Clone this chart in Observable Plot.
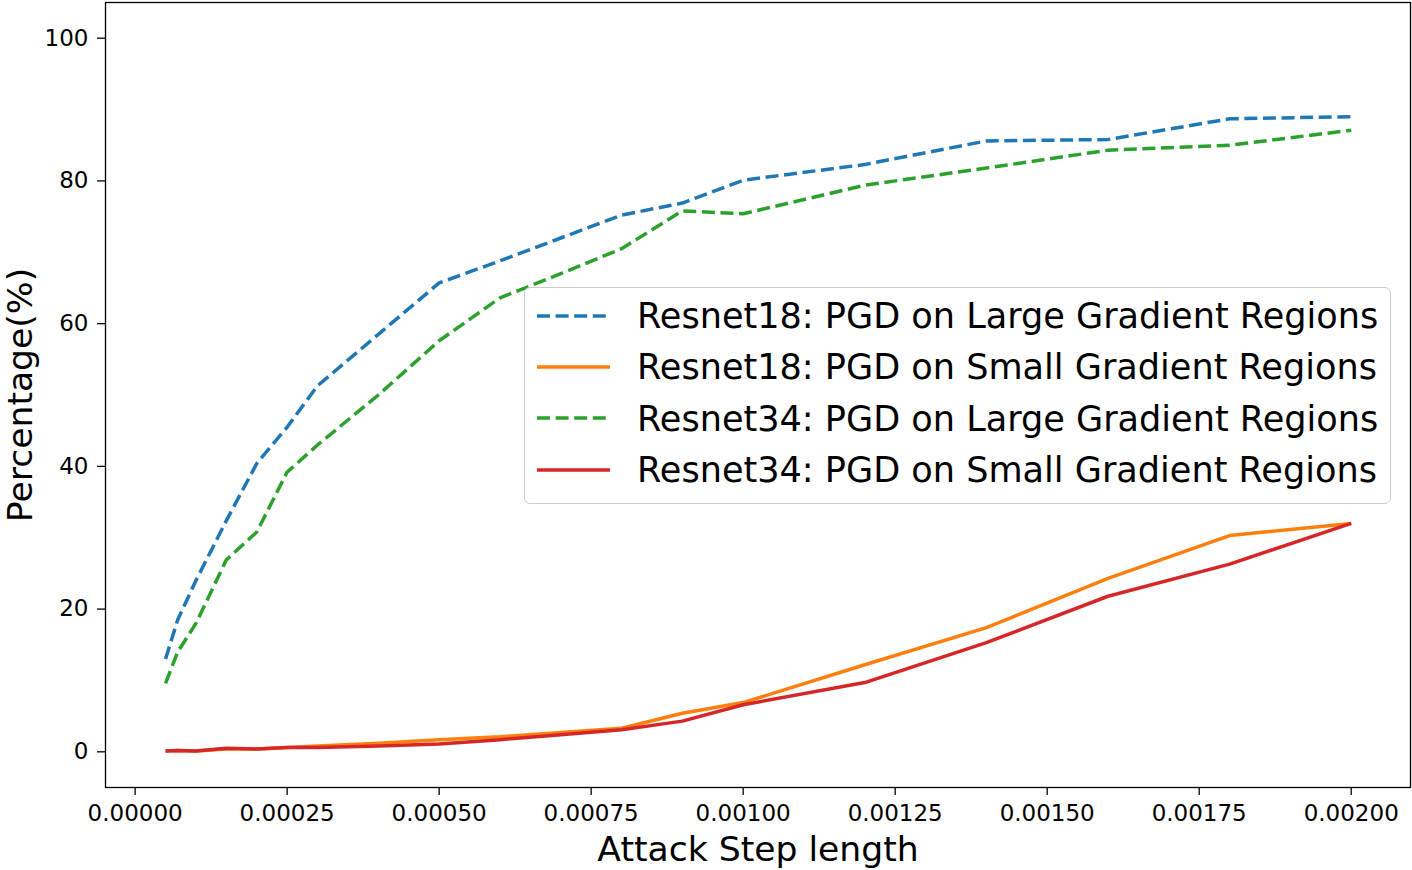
<!DOCTYPE html>
<html><head><meta charset="utf-8">
<script src="https://cdn.jsdelivr.net/npm/d3@7"></script>
<script src="https://cdn.jsdelivr.net/npm/@observablehq/plot@0.6"></script>
<style>
body{margin:0;background:#fff;font-family:"DejaVu Sans",sans-serif;}
#wrap{position:relative;width:1412px;height:870px;}
#legend{position:absolute;left:524px;top:287px;width:865px;height:213px;border:1.5px solid #cccccc;border-radius:6px;background:rgba(255,255,255,0.8);box-sizing:content-box;padding-top:2px;}
.row{display:flex;align-items:center;height:51.3px;font-size:35.1px;color:#000;white-space:nowrap;}
.row svg{margin-left:12px;margin-right:27px;flex-shrink:0;}
</style>
</head><body><div id="wrap"></div>
<script>
const steps = [0.00005, 0.00007, 0.0001, 0.00015, 0.0002, 0.00025, 0.0003, 0.0004, 0.0005, 0.0006, 0.0007, 0.0008, 0.0009, 0.001, 0.0012, 0.0014, 0.0016, 0.0018, 0.002];
const r18Large = [13.0, 18.5, 24.0, 32.4, 40.4, 45.5, 51.3, 58.5, 65.7, 68.8, 72.0, 75.2, 76.9, 80.1, 82.3, 85.6, 85.8, 88.7, 89.0];
const r18Small = [0.1, 0.2, 0.1, 0.4, 0.4, 0.6, 0.8, 1.2, 1.7, 2.1, 2.7, 3.3, 5.4, 6.9, 12.2, 17.4, 24.3, 30.3, 32.0];
const r34Large = [9.6, 14.0, 18.0, 26.9, 30.8, 39.2, 43.0, 50.0, 57.6, 63.6, 67.0, 70.5, 75.8, 75.4, 79.4, 81.8, 84.3, 85.0, 87.1];
const r34Small = [0.1, 0.2, 0.1, 0.5, 0.4, 0.6, 0.6, 0.8, 1.1, 1.7, 2.4, 3.1, 4.3, 6.6, 9.7, 15.3, 21.8, 26.3, 32.0];
const seriesNames = ["Resnet18: PGD on Large Gradient Regions", "Resnet18: PGD on Small Gradient Regions", "Resnet34: PGD on Large Gradient Regions", "Resnet34: PGD on Small Gradient Regions"];
const seriesValues = [r18Large, r18Small, r34Large, r34Small];
const seriesColors = ["#1f77b4", "#ff7f0e", "#2ca02c", "#d62728"];
const seriesDashed = [true, false, true, false];
const xTicks = [0, 0.00025, 0.0005, 0.00075, 0.001, 0.00125, 0.0015, 0.00175, 0.002];
const yTicks = [0, 20, 40, 60, 80, 100];
const xLabel = "Attack Step length";
const yLabel = "Percentage(%)";

const DASH = "13,5.6";
const lineMarks = seriesNames.map((name, i) => Plot.line(
  steps.map((s, j) => ({x: s, y: seriesValues[i][j]})),
  {x: "x", y: "y", stroke: seriesColors[i], strokeWidth: 3.5,
   strokeDasharray: seriesDashed[i] ? DASH : null, strokeLinejoin: "round", strokeLinecap: "butt"}
));

const chart = Plot.plot({
  width: 1412, height: 870,
  marginLeft: 105, marginRight: 2, marginTop: 2, marginBottom: 83,
  style: {fontFamily: "DejaVu Sans", background: "#fff", color: "#000"},
  x: {domain: [-0.00004875, 0.0020975], ticks: xTicks},
  y: {domain: [-5, 105]},
  marks: [
    Plot.axisX({ticks: xTicks, tickFormat: d3.format(".5f"), tickSize: 8, tickPadding: 9, fontSize: 23, strokeWidth: 1.3, label: null}),
    Plot.axisY({ticks: yTicks, tickFormat: d3.format("d"), tickSize: 8, tickPadding: 9, fontSize: 23, strokeWidth: 1.3, label: null}),
    ...lineMarks,
    Plot.frame({stroke: "#000", strokeWidth: 1.3}),
    Plot.text([xLabel], {text: d => d, frameAnchor: "bottom", dy: 73, fontSize: 34.6, lineAnchor: "bottom"}),
    Plot.text([yLabel], {text: d => d, frameAnchor: "left", textAnchor: "middle", dx: -98, rotate: -90, fontSize: 34.6, lineAnchor: "top"})
  ]
});
const wrap = document.getElementById("wrap");
wrap.appendChild(chart);

const legend = document.createElement("div");
legend.id = "legend";
seriesNames.forEach((name, i) => {
  const row = document.createElement("div");
  row.className = "row";
  row.innerHTML = `<svg width="73" height="10"><line x1="0" y1="5" x2="73" y2="5" stroke="${seriesColors[i]}" stroke-width="3.5" ${seriesDashed[i] ? `stroke-dasharray="${DASH}"` : ""}/></svg><span>${name}</span>`;
  legend.appendChild(row);
});
wrap.appendChild(legend);
</script>
</body></html>
